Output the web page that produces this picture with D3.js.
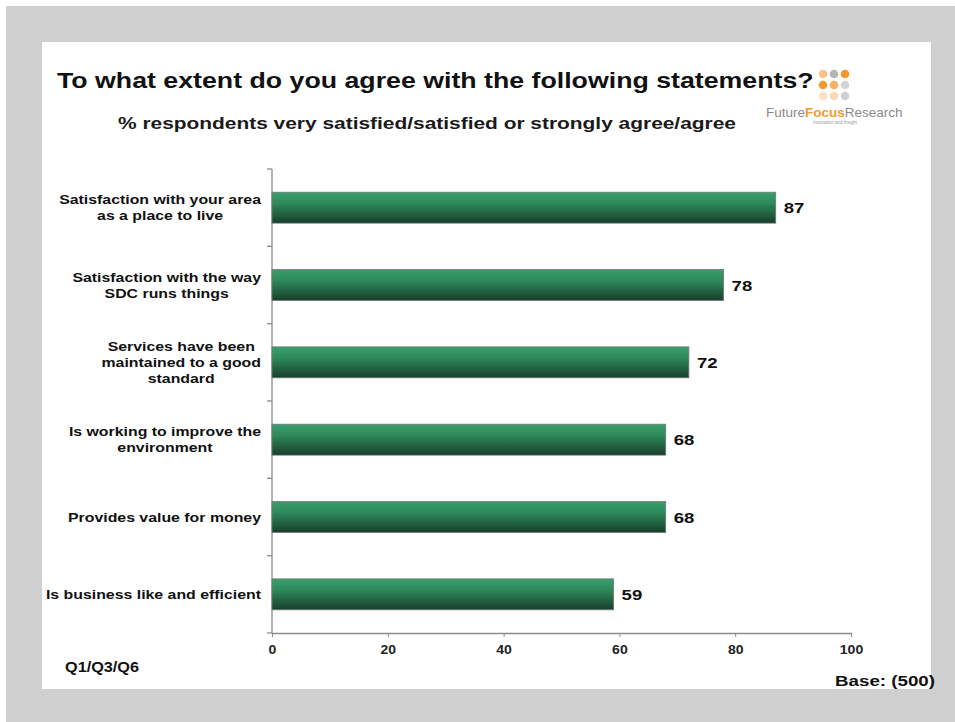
<!DOCTYPE html>
<html>
<head>
<meta charset="utf-8">
<script src="https://cdn.jsdelivr.net/npm/d3@7/dist/d3.min.js"></script>
<style>
  html, body { margin: 0; padding: 0; background: #ffffff; }
  svg { display: block; }
  text { font-family: "Liberation Sans", Arial, sans-serif; }
</style>
</head>
<body>
<svg id="chart" width="955" height="722"></svg>
<script>
// Survey statements (top to bottom) and share agreeing, in %
const categories = [
  ["Satisfaction with your area", "as a place to live"],
  ["Satisfaction with the way", "SDC runs things"],
  ["Services have been", "maintained to a good", "standard"],
  ["Is working to improve the", "environment"],
  ["Provides value for money"],
  ["Is business like and efficient"]
];
const values = [87, 78, 72, 68, 68, 59];
const xTicks = [0, 20, 40, 60, 80, 100];

const title = "To what extent do you agree with the following statements?";
const subtitle = "% respondents very satisfied/satisfied or strongly agree/agree";
const footLeft = "Q1/Q3/Q6";
const footRight = "Base: (500)";

const svg = d3.select("#chart");
const W = 955, H = 722;

// Text in this chart is set in a horizontally widened bold face
const SX = 1.22;
function wideText(parent, x, y, str, opts) {
  const t = parent.append("text")
    .attr("transform", `translate(${x},${y}) scale(${opts.sx || SX},1)`)
    .attr("font-size", opts.size)
    .attr("font-weight", opts.weight || "bold")
    .attr("fill", opts.fill || "#111")
    .attr("text-anchor", opts.anchor || "start")
    .text(str);
  if (opts.dy) t.attr("dy", opts.dy);
  return t;
}

// Frame: grey surround with white panel
svg.append("rect").attr("x", 6).attr("y", 6).attr("width", W - 6).attr("height", H - 6).attr("fill", "#cfcfcf");
svg.append("rect").attr("x", 42).attr("y", 42).attr("width", 889).attr("height", 647).attr("fill", "#ffffff");

const plot = { left: 272, right: 851, top: 169, bottom: 633 };

const x = d3.scaleLinear().domain([0, 100]).range([plot.left, plot.right]);
const y = d3.scaleBand()
  .domain(d3.range(categories.length))
  .range([plot.top, plot.bottom])
  .paddingInner(0.6)
  .paddingOuter(0.3);

// Bar fill gradient (lighter top, darker bottom)
const defs = svg.append("defs");
const grad = defs.append("linearGradient").attr("id", "barGrad")
  .attr("x1", 0).attr("y1", 0).attr("x2", 0).attr("y2", 1);
grad.append("stop").attr("offset", "0%").attr("stop-color", "#3a9e6c");
grad.append("stop").attr("offset", "35%").attr("stop-color", "#2e8a5b");
grad.append("stop").attr("offset", "100%").attr("stop-color", "#173f2a");

// Titles
wideText(svg, 57, 88, title, { size: 22, sx: 1.215 });
wideText(svg, 118, 129, subtitle, { size: 17, sx: 1.23, fill: "#1a1a1a" });

// Logo: 3x3 dot grid plus wordmark
const dotColors = [
  ["#f9c48a", "#b5b5b5", "#f39a2e"],
  ["#f39a2e", "#f6b066", "#d5d5d5"],
  ["#fce0c2", "#fbd9b6", "#d0d0d0"]
];
const logo = svg.append("g");
dotColors.forEach((row, r) => row.forEach((c, k) => {
  logo.append("circle").attr("cx", 823 + k * 11).attr("cy", 74 + r * 11).attr("r", 4.3).attr("fill", c);
}));
const word = logo.append("text").attr("x", 766).attr("y", 117).attr("font-size", 13.5);
word.append("tspan").attr("fill", "#8a8a8a").text("Future");
word.append("tspan").attr("fill", "#f39a2e").attr("font-weight", "bold").text("Focus");
word.append("tspan").attr("fill", "#8a8a8a").text("Research");
logo.append("text").attr("x", 835).attr("y", 124).attr("font-size", 4.5).attr("fill", "#9a9a9a")
  .attr("text-anchor", "middle").text("Innovation and Insight");

// Axes
const axisColor = "#8c8c8c";
const xAxis = svg.append("g").attr("transform", `translate(0,${plot.bottom})`)
  .call(d3.axisBottom(x).tickValues(xTicks).tickSize(4).tickSizeOuter(0).tickPadding(8));
xAxis.select(".domain").attr("stroke", axisColor).attr("stroke-width", 1.3);
xAxis.selectAll(".tick line").attr("stroke", axisColor);
xAxis.selectAll(".tick text")
  .attr("font-size", 12.5).attr("font-weight", "bold").attr("fill", "#222")
  .attr("font-family", "'Liberation Sans', Arial, sans-serif")
  .attr("transform", "scale(1.12,1)")
  .attr("x", 0);

// Left axis line with ticks between categories
svg.append("line").attr("x1", plot.left).attr("x2", plot.left)
  .attr("y1", plot.top).attr("y2", plot.bottom).attr("stroke", axisColor).attr("stroke-width", 1.3);
const boundaries = d3.range(categories.length + 1).map(i => plot.top + (plot.bottom - plot.top) * i / categories.length);
svg.selectAll(".ytick").data(boundaries).enter().append("line")
  .attr("x1", plot.left - 5).attr("x2", plot.left)
  .attr("y1", d => d).attr("y2", d => d)
  .attr("stroke", axisColor).attr("stroke-width", 1.3);

// Bars
svg.selectAll(".bar").data(values).enter().append("rect")
  .attr("x", x(0)).attr("y", (d, i) => y(i))
  .attr("width", d => x(d) - x(0)).attr("height", y.bandwidth())
  .attr("fill", "url(#barGrad)").attr("stroke", "#6f7a73").attr("stroke-width", 0.8);

// Value labels
values.forEach((v, i) => {
  wideText(svg, x(v) + 8, y(i) + y.bandwidth() / 2, v, { size: 15.5, sx: 1.2, dy: "0.36em" });
});

// Category labels: lines centred within a block right-aligned to the axis
const lineH = 16;
categories.forEach((lines, i) => {
  const cy = y(i) + y.bandwidth() / 2;
  const g = svg.append("g");
  const texts = lines.map((ln, j) => g.append("text")
    .attr("font-size", 13).attr("font-weight", "bold").attr("fill", "#111")
    .attr("text-anchor", "middle")
    .attr("x", 0)
    .attr("y", cy + (j - (lines.length - 1) / 2) * lineH)
    .attr("dy", "0.35em").text(ln));
  const maxW = d3.max(texts, t => t.node().getComputedTextLength()) * SX;
  const cx = plot.left - 11 - maxW / 2;
  g.attr("transform", `translate(${cx},0) scale(${SX},1)`);
});

// Footnotes
wideText(svg, 65, 672, footLeft, { size: 14, sx: 1.16 });
wideText(svg, 935, 686, footRight, { size: 15, sx: 1.25, anchor: "end" });
</script>
</body>
</html>
